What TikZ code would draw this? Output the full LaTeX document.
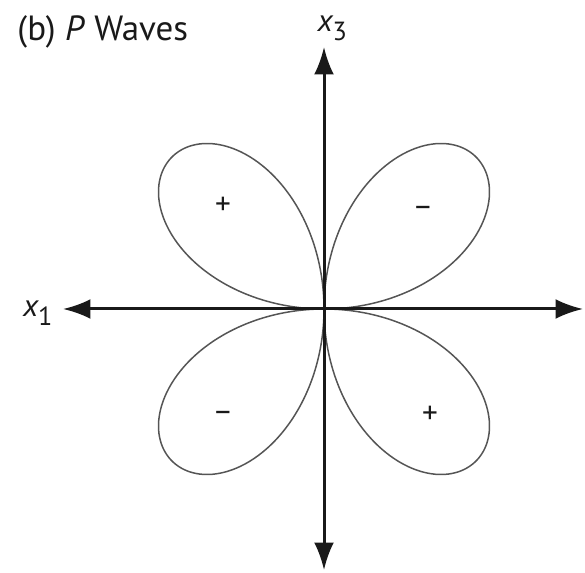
\documentclass[tikz,border=0pt]{standalone}
\usepackage{fontspec}
\setmainfont{PT Sans}
\usepackage{tikz}
\usetikzlibrary{arrows.meta,positioning}
\definecolor{axisgray}{RGB}{25,25,25}
\definecolor{lobegray}{RGB}{85,85,85}
\newcommand{\axlab}[1]{{\itshape x}\raisebox{-0.55ex}{\fontsize{10.5}{12}\selectfont #1}}

\begin{document}
\begin{tikzpicture}[
    x=0.4pt, y=0.4pt,
    >={Latex[length=11pt,width=8pt]},
    axis/.style={
        draw=axisgray,
        line width=1.2pt
    },
    lobe/.style={
        draw=lobegray,
        line width=0.6pt,
        smooth,
        samples=120
    },
    sign/.style={
        font=\fontsize{12.5}{14}\selectfont,
        text=axisgray,
        inner sep=0pt
    },
    label/.style={
        font=\fontsize{12.5}{15}\selectfont,
        text=axisgray,
        inner sep=0pt
    }
]
\useasboundingbox (-324,-263) rectangle (261,309);

\coordinate (origin) at (0,0);
\coordinate (left) at (-261,0);
\coordinate (right) at (259,0);
\coordinate (top) at (0,262);
\coordinate (bottom) at (0,-261);

% radiation pattern lobes
\draw[lobe] plot[domain=0:90] (\x:{215*abs(sin(2*\x))});
\draw[lobe] plot[domain=90:180] (\x:{215*abs(sin(2*\x))});
\draw[lobe] plot[domain=180:270] (\x:{215*abs(sin(2*\x))});
\draw[lobe] plot[domain=270:360] (\x:{215*abs(sin(2*\x))});

\draw[axis, <->] (left) -- (right);
\draw[axis, <->] (bottom) -- (top);

\node[label, anchor=base east] (xone) at ([shift={(-10,-8)}]left) {\axlab{1}};
\node[label, anchor=base west] (xthree) at ([shift={(-7,15)}]top) {\axlab{3}};
\node[label, anchor=base west, font=\fontsize{14}{16}\selectfont] (title) at (-307,268) {(b) \textit{P} Waves};

\node[sign] (plusA) at (-101,103) {+};
\node[sign] (minusA) at (99,98) {\textendash};
\node[sign] (minusB) at (-101,-107) {\textendash};
\node[sign] (plusB) at (106,-106) {+};
\end{tikzpicture}
\end{document}
